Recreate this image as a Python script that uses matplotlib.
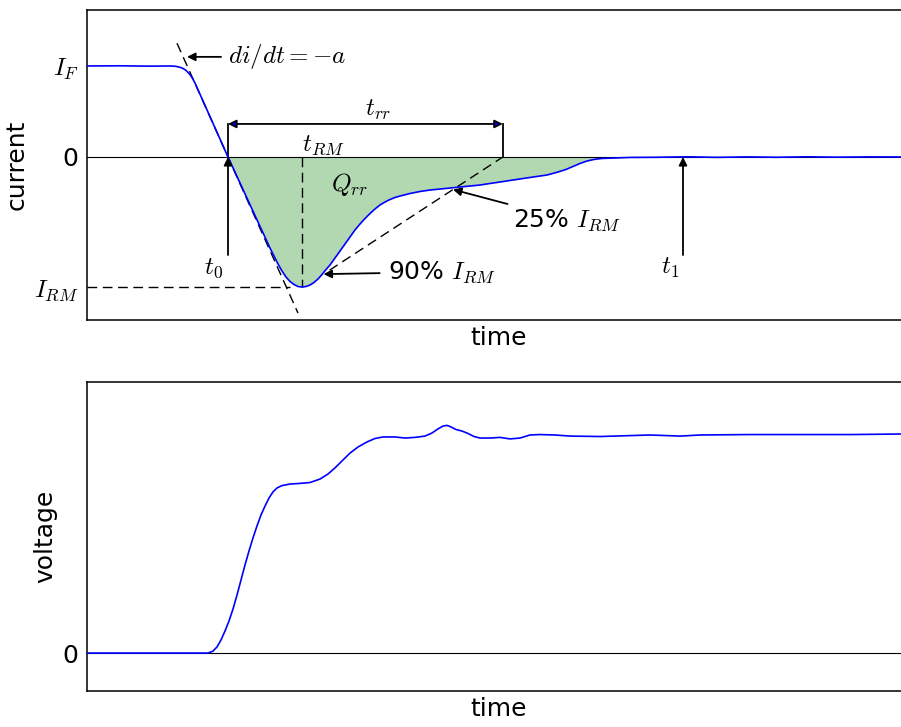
import numpy as np
import matplotlib
matplotlib.use("Agg")
import matplotlib.pyplot as plt

plt.rcParams['mathtext.fontset'] = 'cm'
plt.rcParams['font.family'] = ['DejaVu Sans']
plt.rcParams['font.size'] = 18

# ---------------- data (time in arbitrary units, current in units of I_F, voltage normalised) ----
t_cur = [0.0, 3.3, 6.3, 8.3, 8.8, 9.2, 9.6, 9.9, 10.2, 10.5, 10.8, 14.1, 18.3, 18.7, 19.1,
         19.5, 19.9, 20.3, 20.7, 21.1, 21.5, 21.9, 22.3, 22.7, 23.1, 23.5, 23.9, 24.3, 24.8,
         25.3, 25.8, 26.3, 26.8, 27.3, 27.8, 28.3, 28.8, 29.3, 29.8, 30.3, 30.8, 31.3, 32.3,
         33.3, 34.3, 35.3, 36.3, 37.3, 38.3, 39.3, 40.3, 41.3, 42.6, 44.3, 46.0, 47.1, 47.9,
         48.6, 49.3, 50.0, 50.7, 51.5, 52.8, 54.3, 57.0, 60.0, 63.0, 66.0, 69.0, 72.0, 75.0,
         78.0, 82.4]
i_cur = [1.0, 1.002, 0.998, 1.0, 0.997, 0.989, 0.973, 0.951, 0.918, 0.874, 0.813, 0.0, -1.0,
         -1.088, -1.176, -1.253, -1.319, -1.368, -1.401, -1.423, -1.429, -1.423, -1.407,
         -1.379, -1.341, -1.291, -1.236, -1.187, -1.110, -1.033, -0.956, -0.879, -0.802,
         -0.736, -0.676, -0.621, -0.571, -0.527, -0.495, -0.467, -0.445, -0.429, -0.401,
         -0.379, -0.363, -0.352, -0.341, -0.330, -0.319, -0.308, -0.291, -0.275, -0.253,
         -0.225, -0.198, -0.165, -0.137, -0.104, -0.071, -0.044, -0.027, -0.016, -0.011,
         -0.005, -0.003, 0.002, -0.004, 0.001, -0.003, 0.002, -0.002, 0.001, 0.0]

t_volt = [0.0, 6.3, 12.1, 12.6, 13.0, 13.4, 13.8, 14.2, 14.6, 15.0, 15.4, 15.8, 16.2, 16.6,
          17.0, 17.4, 17.8, 18.2, 18.6, 19.0, 19.5, 20.3, 21.3, 22.3, 23.3, 24.1, 24.8,
          25.5, 26.3, 27.1, 28.0, 28.8, 29.6, 30.8, 31.8, 32.8, 33.8, 34.5, 35.1, 35.6,
          36.0, 36.4, 36.9, 37.5, 38.1, 38.7, 39.3, 40.3, 41.3, 42.3, 43.3, 44.3, 45.3,
          46.8, 48.3, 51.3, 56.3, 59.3, 61.3, 66.3, 71.3, 76.3, 82.4]
v_volt = [0.0, 0.0, 0.0, 0.009, 0.028, 0.060, 0.101, 0.147, 0.202, 0.266, 0.335, 0.404,
          0.468, 0.528, 0.583, 0.633, 0.674, 0.711, 0.739, 0.757, 0.768, 0.775, 0.778,
          0.782, 0.798, 0.821, 0.849, 0.881, 0.917, 0.945, 0.968, 0.984, 0.991, 0.991,
          0.986, 0.989, 0.995, 1.009, 1.028, 1.041, 1.044, 1.037, 1.025, 1.018, 1.007,
          0.993, 0.986, 0.986, 0.989, 0.982, 0.986, 1.0, 1.002, 1.0, 0.995, 0.993, 1.0,
          0.995, 1.0, 1.002, 1.002, 1.002, 1.005]

I_F = 1.0
I_RM = -1.43
t0 = 14.1        # zero crossing
t_RM = 21.5      # time of peak reverse current
t90 = 23.65      # 90% I_RM on recovery
t25 = 36.6       # 25% I_RM on recovery
t1 = 59.6
a = 0.245        # di/dt slope magnitude

t_cur = np.array(t_cur)
i_cur = np.array(i_cur)

# ---------------- figure ----------------
fig = plt.figure(figsize=(9.01, 7.27), dpi=100)
L, W = 87 / 901, 824 / 901
ax1 = fig.add_axes([L, 1 - 320 / 727, W, 310 / 727])
ax2 = fig.add_axes([L, 1 - 691 / 727, W, 309 / 727])

for ax in (ax1, ax2):
    for s in ax.spines.values():
        s.set_linewidth(1.1)
    ax.set_xticks([])
    ax.tick_params(length=0, pad=6, labelsize=18)
    ax.set_xlabel('time', fontsize=18)
    ax.axhline(0, color='k', lw=0.8)

DASH = (7, 4)

# ---- current ----
ax1.plot(t_cur, i_cur, color='b', lw=1.2, zorder=3)
ax1.fill_between(t_cur, i_cur, 0, where=(t_cur >= t0) & (i_cur <= 0), interpolate=True,
                 color='g', alpha=0.3, lw=0)
ax1.set_xlim(0, 82.4)
ax1.set_ylim(-1.791, 1.615)
ax1.set_yticks([I_RM, 0, I_F])
ax1.set_yticklabels([r'$I_{RM}$', '0', r'$I_F$'])
ax1.set_ylabel('current', fontsize=18)

# di/dt tangent
tt = np.array([t0 - 5.1, t0 + 7.0])
ax1.plot(tt, -a * (tt - t0), 'k--', lw=1, dashes=DASH)
# I_RM and t_RM dashed
ax1.plot([0, t_RM - 1.2], [I_RM, I_RM], 'k--', lw=1, dashes=DASH)
ax1.plot([t_RM, t_RM], [0, I_RM], 'k--', lw=1, dashes=DASH)
# line through 90% and 25% points
i90, i25 = 0.9 * I_RM, 0.25 * I_RM
slope = (i25 - i90) / (t25 - t90)
t_rr_end = t25 - i25 / slope
ax1.plot([t90 + 0.6, t_rr_end], [i90 + 0.6 * slope, 0], 'k--', lw=1, dashes=DASH)

arr = dict(arrowstyle='-|>', color='k', lw=1.3, mutation_scale=12, shrinkA=0, shrinkB=0)

ax1.annotate(r'$di/dt = -a$', xy=(10.0, 1.1), xytext=(14.1, 1.1), ha='left', va='center',
             fontsize=18, arrowprops=dict(arr, shrinkA=3))
# t_rr bracket
y_rr = 0.363
ax1.annotate('', xy=(t0, y_rr), xytext=(t_rr_end, y_rr),
             arrowprops=dict(arrowstyle='<|-|>', fc='b', ec='k', lw=1.3, mutation_scale=12,
                             shrinkA=0, shrinkB=0))
ax1.plot([t0, t0], [0, y_rr], 'k-', lw=1.3)
ax1.plot([t_rr_end, t_rr_end], [0, y_rr], 'k-', lw=1.3)
ax1.text(29.1, 0.52, r'$t_{rr}$', ha='center', va='center', fontsize=18)
ax1.text(t_RM, 0.0, r'$t_{RM}$', ha='left', va='bottom', fontsize=18)
ax1.text(26.3, -0.30, r'$Q_{rr}$', ha='center', va='center', fontsize=18)

# t0 and t1 arrows
ax1.annotate('', xy=(t0, 0), xytext=(t0, -1.077), arrowprops=arr)
ax1.text(12.7, -1.22, r'$t_0$', ha='center', va='center', fontsize=18)
ax1.annotate('', xy=(t1, 0), xytext=(t1, -1.077), arrowprops=arr)
ax1.text(58.3, -1.22, r'$t_1$', ha='center', va='center', fontsize=18)

ax1.annotate(r'90% $I_{RM}$', xy=(t90, i90), xytext=(30.1, -1.264), ha='left', va='center',
             fontsize=18, arrowprops=dict(arr, shrinkA=4))
ax1.annotate(r'25% $I_{RM}$', xy=(t25, i25), xytext=(42.6, -0.69), ha='left', va='center',
             fontsize=18, arrowprops=dict(arr, shrinkA=2))

# ---- voltage ----
ax2.plot(t_volt, v_volt, color='b', lw=1.2, zorder=3)
ax2.set_xlim(0, 82.4)
ax2.set_ylim(-0.174, 1.243)
ax2.set_yticks([0])
ax2.set_yticklabels(['0'])
ax2.set_ylabel('voltage', fontsize=18)

fig.savefig('out.png', dpi=100)
